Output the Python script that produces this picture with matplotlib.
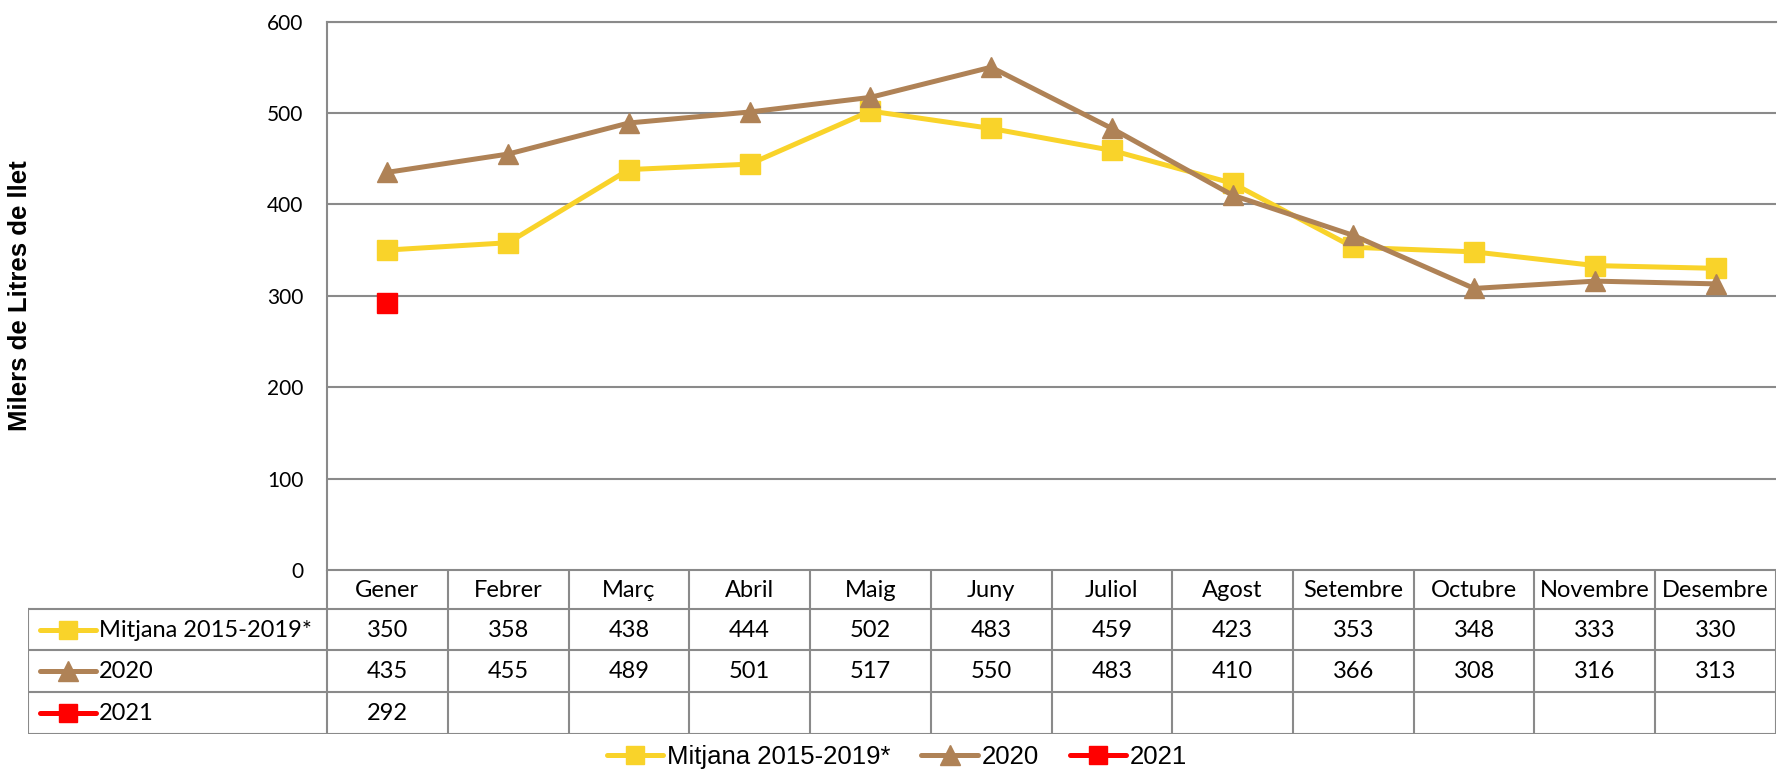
import matplotlib
matplotlib.use("Agg")
import matplotlib.pyplot as plt
from matplotlib.lines import Line2D
import numpy as np

months = ['Gener', 'Febrer', 'Març', 'Abril', 'Maig', 'Juny', 'Juliol', 'Agost',
          'Setembre', 'Octubre', 'Novembre', 'Desembre']
mitjana = [350, 358, 438, 444, 502, 483, 459, 423, 353, 348, 333, 330]
y2020 = [435, 455, 489, 501, 517, 550, 483, 410, 366, 308, 316, 313]
y2021 = [292]
series_names = ['Mitjana 2015-2019*', '2020', '2021']
yticks = [0, 100, 200, 300, 400, 500, 600]

C_Y = '#F9D32A'
C_B = '#AF8256'
C_R = '#FF0000'
GRID = '#8A8A8A'

W, H = 1778, 774
fig = plt.figure(figsize=(W / 100, H / 100), dpi=100)

def fx(p):
    return p / W

def fy(p):
    return 1 - p / H

PL, PR, PT, PB = 327, 1776, 21.5, 570
ax = fig.add_axes([fx(PL), fy(PB), fx(PR) - fx(PL), (PB - PT) / H])
ax.set_xlim(-0.5, 11.5)
ax.set_ylim(0, 600)
ax.set_yticks(yticks)
ax.set_yticklabels([str(v) for v in yticks], fontfamily='Lato', fontsize=15)
ax.tick_params(axis='y', length=0, pad=17)
ax.set_xticks([])
ax.yaxis.grid(True, color=GRID, lw=1.5)
ax.set_axisbelow(True)
for s in ['right', 'bottom']:
    ax.spines[s].set_visible(False)
for s in ['left', 'top']:
    ax.spines[s].set_color(GRID)
    ax.spines[s].set_linewidth(1.5)

x = np.arange(len(months))
ms = 14
lw = 3.6
ax.plot(x, mitjana, color=C_Y, lw=lw, marker='s', ms=ms, clip_on=False, zorder=3)
ax.plot(x, y2020, color=C_B, lw=lw, marker='^', ms=ms + 1, clip_on=False, zorder=4)
ax.plot(x[:len(y2021)], y2021, color=C_R, lw=lw, marker='s', ms=ms, clip_on=False, zorder=5)

fig.text(fx(20), fy(296), 'Milers de Litres de llet', rotation=90, ha='center', va='center',
         fontfamily='Liberation Sans', fontweight='bold', fontsize=18.5)

# ---- data table ----
TL, TB = 28, 734
colw = (PR - PL) / 12.0
lab_cols = (PL - TL) / colw
tax = fig.add_axes([fx(TL), fy(TB), fx(PR) - fx(TL), (TB - PB) / H])
tax.set_xlim(-0.5 - lab_cols, 11.5)
tax.set_ylim(TB, PB)
tax.axis('off')

rows_y = [570, 609, 650, 692, 734]
lkw = dict(color=GRID, lw=1.5, solid_capstyle='projecting')
tax.plot([-0.5, 11.5], [rows_y[0], rows_y[0]], **lkw)
for yy in rows_y[1:]:
    tax.plot([-0.5 - lab_cols, 11.5], [yy, yy], **lkw)
tax.plot([-0.5 - lab_cols] * 2, [rows_y[1], rows_y[-1]], **lkw)
for k in range(13):
    tax.plot([-0.5 + k] * 2, [rows_y[0], rows_y[-1]], **lkw)

tfont = dict(fontfamily='Lato', fontsize=17, ha='center', va='center')
for i, m in enumerate(months):
    tax.text(i, (rows_y[0] + rows_y[1]) / 2 + 1, m, **tfont)
for r, vals in enumerate([mitjana, y2020, y2021]):
    yc = (rows_y[r + 1] + rows_y[r + 2]) / 2 + 1
    for i, v in enumerate(vals):
        tax.text(i, yc, str(v), **tfont)

def px2d(p):
    return -0.5 - lab_cols + (p - TL) / colw

styles = [(C_Y, 's', ms - 1), (C_B, '^', ms), (C_R, 's', ms - 1)]
for r, (name, (c, mk, msz)) in enumerate(zip(series_names, styles)):
    yc = (rows_y[r + 1] + rows_y[r + 2]) / 2
    tax.plot([px2d(40), px2d(96)], [yc, yc], color=c, lw=lw, solid_capstyle='round', clip_on=False)
    tax.plot([px2d(68)], [yc], color=c, marker=mk, ms=msz, clip_on=False)
    tax.text(px2d(99), yc + 1, name, fontfamily='Lato', fontsize=17, ha='left', va='center')

# ---- legend ----
handles = [Line2D([], [], color=c, lw=lw, marker=mk, ms=msz, solid_capstyle='round')
           for (c, mk, msz) in styles]
fig.legend(handles, series_names, loc='center', bbox_to_anchor=(fx(897), fy(757)), ncol=3,
           frameon=False, prop={'family': 'Liberation Sans', 'size': 18.5},
           handlelength=2.2, handletextpad=0.15, columnspacing=1.2, borderpad=0)

fig.savefig('out.png', dpi=100)
